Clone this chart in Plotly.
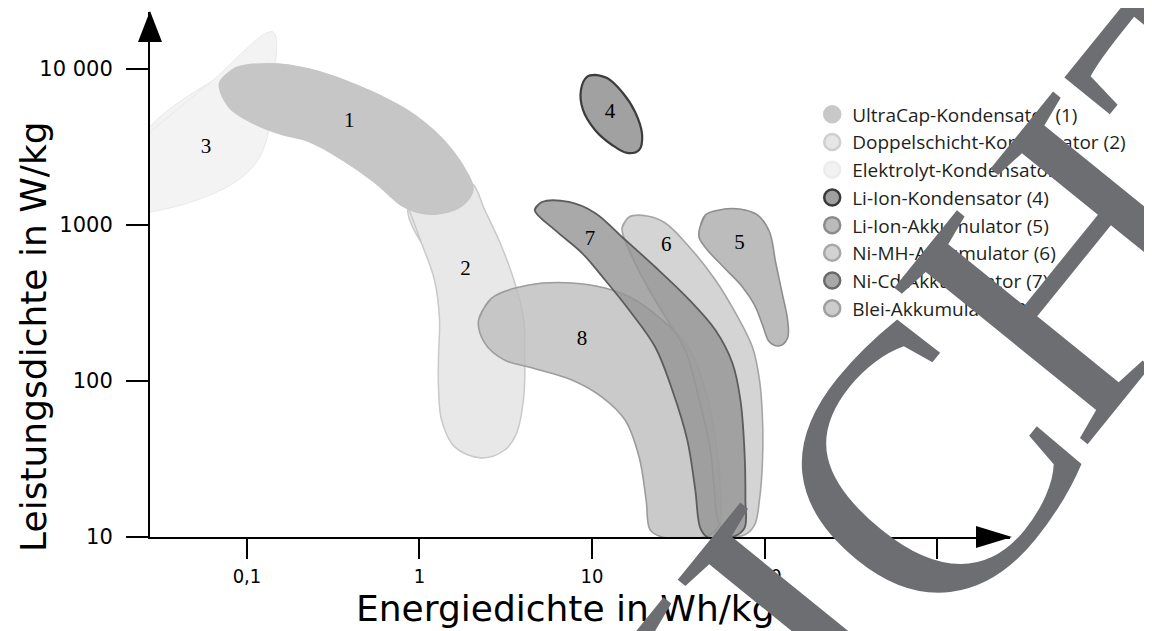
import plotly.graph_objects as go

# ---------------- data: region outlines (Energiedichte Wh/kg, Leistungsdichte W/kg) ----------------
ultracap_E = [0.0687, 0.084, 0.1324, 0.2264, 0.442, 0.863, 1.343, 1.827, 2.061, 1.754, 1.174, 0.819,
              0.547, 0.352, 0.2264, 0.1577, 0.1055, 0.0776]
ultracap_P = [8130, 10140, 10920, 10140, 7890, 5450, 3660, 2350, 1680, 1304, 1158, 1286,
              1858, 2610, 3404, 3776, 4510, 5710]

doppel_E = [0.86, 1.027, 1.222, 1.307, 1.289, 1.289, 1.343, 1.598, 2.294, 3.12, 3.66, 4.02, 4.08,
            4.02, 3.57, 3.0, 2.39, 2.0, 1.343]
doppel_P = [1300, 767, 444, 246, 142.6, 91.6, 56.2, 37.8, 32.1, 36.1, 46.5, 78.9, 142.6,
            246, 425, 723, 1247, 1858, 1941]

elektrolyt_E = [0.0242, 0.0618, 0.1416, 0.1416, 0.134, 0.116, 0.084, 0.0472, 0.0277, 0.0242]
elektrolyt_P = [3510, 8260, 17260, 7670, 4060, 2610, 1860, 1400, 1210, 1180]

lion_kond_E = [10.41, 12.23, 14.94, 17.78, 19.53, 18.76, 15.98, 13.07, 10.41, 8.87, 8.63, 9.35]
lion_kond_P = [9150, 8750, 7121, 5302, 3775, 3026, 2894, 3256, 4064, 5460, 7330, 8886]

lion_akku_E = [41.88, 45.39, 54.74, 71.6, 91.0, 106.9, 115.9, 127.2, 136.1, 136.1, 122.3, 106.9,
               97.4, 87.5, 74.5, 58.56, 46.63, 41.88]
lion_akku_P = [929, 1159, 1248, 1266, 1159, 902, 579, 356, 246, 189, 168, 178,
               229, 307, 401, 530, 692, 825]

nimh_E = [14.94, 16.41, 20.88, 26.57, 36.64, 51.89, 67.87, 85.1, 93.5, 97.4, 97.4, 93.5, 87.5,
          76.5, 60.96, 54.02, 51.2, 48.53, 41.88, 34.74, 28.04, 21.45, 17.09]
nimh_P = [957, 1125, 1142, 1030, 723, 444, 273, 165, 101.5, 56.2, 31.2, 17.3, 11.9,
          10.3, 10.3, 12.5, 20.0, 36.1, 75.5, 158, 235, 383, 623]

nicd_E = [4.66, 5.12, 7.35, 10.41, 14.94, 23.25, 36.64, 51.89, 65.2, 72.53, 76.5, 77.5, 76.5,
          65.2, 46.63, 42.46, 39.71, 35.67, 29.18, 23.25, 16.41, 11.90, 8.75, 6.09]
nicd_P = [1248, 1404, 1404, 1194, 837, 538, 331, 212, 130, 75.5, 36.1, 17.3, 11.4,
          10, 10, 11.4, 20.0, 41.9, 87.6, 165, 285, 444, 661, 929]

blei_E = [2.20, 2.62, 4.30, 7.65, 11.90, 17.78, 25.53, 35.67, 45.39, 51.89, 55.5, 54.74, 46.63,
          25.53, 21.74, 20.6, 18.76, 15.56, 11.43, 7.65, 4.30, 3.12, 2.39]
blei_P = [246, 340, 412, 425, 394, 331, 246, 170, 87.6, 41.9, 20.0, 11.9, 10.15,
          10, 11.1, 17.3, 32.6, 56.2, 78.9, 101.5, 123, 136, 175]

legend_names = ["UltraCap-Kondensator (1)", "Doppelschicht-Kondensator (2)", "Elektrolyt-Kondensator (3)",
                "Li-Ion-Kondensator (4)", "Li-Ion-Akkumulator (5)", "Ni-MH-Akkumulator (6)",
                "Ni-Cd-Akkumulator (7)", "Blei-Akkumulator (8)"]

label_text = ["1", "2", "3", "4", "5", "6", "7", "8"]
label_E = [0.392, 1.85, 0.0578, 12.72, 71.6, 26.93, 9.73, 8.75]
label_P = [4570, 515, 3120, 5224, 755, 733, 801, 183]

x_tickvals = [0.1, 1, 10, 100, 1000]
x_ticktext = ["0,1", "1", "10", "100", "1000"]
y_tickvals = [10, 100, 1000, 10000]
y_ticktext = ["10", "100", "1000", "10 000"]

# ---------------- styles ----------------
regions = {
    1: (ultracap_E, ultracap_P, "#c6c6c6", "rgba(0,0,0,0)", 0),
    2: (doppel_E, doppel_P, "#e8e8e8", "#c9c9c9", 1.5),
    3: (elektrolyt_E, elektrolyt_P, "#f3f3f3", "#e9e9e9", 1),
    4: (lion_kond_E, lion_kond_P, "#a1a1a1", "#3c3c3c", 2.2),
    5: (lion_akku_E, lion_akku_P, "#bcbcbc", "#8e8e8e", 1.6),
    6: (nimh_E, nimh_P, "rgba(201,201,201,0.8)", "#a5a5a5", 1.6),
    7: (nicd_E, nicd_P, "rgba(147,147,147,0.8)", "#5c5c5c", 1.8),
    8: (blei_E, blei_P, "rgba(189,189,189,0.8)", "#9c9c9c", 1.6),
}
legend_fill = ["#c8c8c8", "#e6e6e6", "#f2f2f2", "#a0a0a0", "#bbbbbb", "#d2d2d2", "#a8a8a8", "#cccccc"]
legend_edge = ["#c8c8c8", "#cfcfcf", "#ececec", "#3a3a3a", "#8c8c8c", "#a8a8a8", "#6a6a6a", "#a0a0a0"]

draw_order = [3, 2, 1, 8, 6, 7, 5, 4]

fig = go.Figure()

for k in draw_order:
    E, P, fill, edge, w = regions[k]
    xs = list(E) + [E[0], E[1]]
    ys = list(P) + [P[0], P[1]]
    fig.add_trace(go.Scatter(
        x=xs, y=ys, mode="lines", fill="toself", fillcolor=fill,
        line=dict(color=edge, width=w, shape="spline", smoothing=1.0),
        showlegend=False, hoverinfo="skip"))

fig.add_trace(go.Scatter(
    x=label_E, y=label_P, mode="text", text=label_text,
    textfont=dict(family="Liberation Serif", size=21, color="black"),
    showlegend=False, hoverinfo="skip"))

for i, name in enumerate(legend_names):
    fig.add_trace(go.Scatter(
        x=[None], y=[None], mode="markers", name=name, legendgroup=str(i),
        marker=dict(size=20, color=legend_fill[i], line=dict(color=legend_edge[i], width=2.5))))

wm_font = dict(family="Liberation Serif", size=380, color="#6d6e71")

# page body has an 8px default margin, so the figure is 8px smaller and margins compensate
fig.update_layout(
    width=1144, height=623,
    margin=dict(l=142, r=142, t=4, b=94, autoexpand=False),
    plot_bgcolor="white", paper_bgcolor="white",
    showlegend=True,
    legend=dict(x=0.770, y=0.841, xanchor="left", yanchor="top", bgcolor="rgba(0,0,0,0)",
                font=dict(family="Open Sans", size=19, color="#231f20"),
                tracegroupgap=0, itemsizing="trace", traceorder="grouped"),
    xaxis=dict(type="log", range=[-1.562, 3.423], tickvals=x_tickvals, ticktext=x_ticktext,
               ticks="outside", ticklen=20, tickwidth=2, tickcolor="black",
               showline=True, linewidth=2, linecolor="black", showgrid=False, zeroline=False,
               tickfont=dict(family="DejaVu Sans Condensed, DejaVu Sans", size=20, color="black"),
               ticklabelstandoff=0),
    yaxis=dict(type="log", range=[1, 4.365], tickvals=y_tickvals, ticktext=y_ticktext,
               ticks="outside", ticklen=22, tickwidth=2, tickcolor="black",
               showline=True, linewidth=2, linecolor="black", showgrid=False, zeroline=False,
               tickfont=dict(family="DejaVu Sans", size=21, color="black"), ticklabelstandoff=9),
    shapes=[
        dict(type="path", xref="paper", yref="paper", xsizemode="pixel", ysizemode="pixel",
             xanchor=0, yanchor=1, path="M-12,-30 L12,-30 L0,1 Z",
             fillcolor="black", line=dict(width=0), layer="above"),
        dict(type="path", xref="paper", yref="paper", xsizemode="pixel", ysizemode="pixel",
             xanchor=1, yanchor=0, path="M-34,11 L-34,-11 L2,0 Z",
             fillcolor="black", line=dict(width=0), layer="above"),
    ],
    annotations=[
        dict(text="Energiedichte in Wh/kg", xref="paper", yref="paper", x=0.4826, y=-0.137,
             xanchor="center", yanchor="middle", showarrow=False,
             font=dict(family="DejaVu Sans", size=36, color="black")),
        dict(text="Leistungsdichte in W/kg", xref="paper", yref="paper", x=-0.1349, y=0.383,
             xanchor="center", yanchor="middle", showarrow=False, textangle=-90,
             font=dict(family="DejaVu Sans", size=36, color="black")),
        dict(text="NIC", xref="paper", yref="paper", x=0.7508, y=-0.1691,
             xanchor="center", yanchor="middle", showarrow=False, textangle=-51, font=wm_font),
        dict(text="HT", xref="paper", yref="paper", x=1.1521, y=0.6899,
             xanchor="center", yanchor="middle", showarrow=False, textangle=-51, font=wm_font),
    ],
)

fig.write_html("out.html")
